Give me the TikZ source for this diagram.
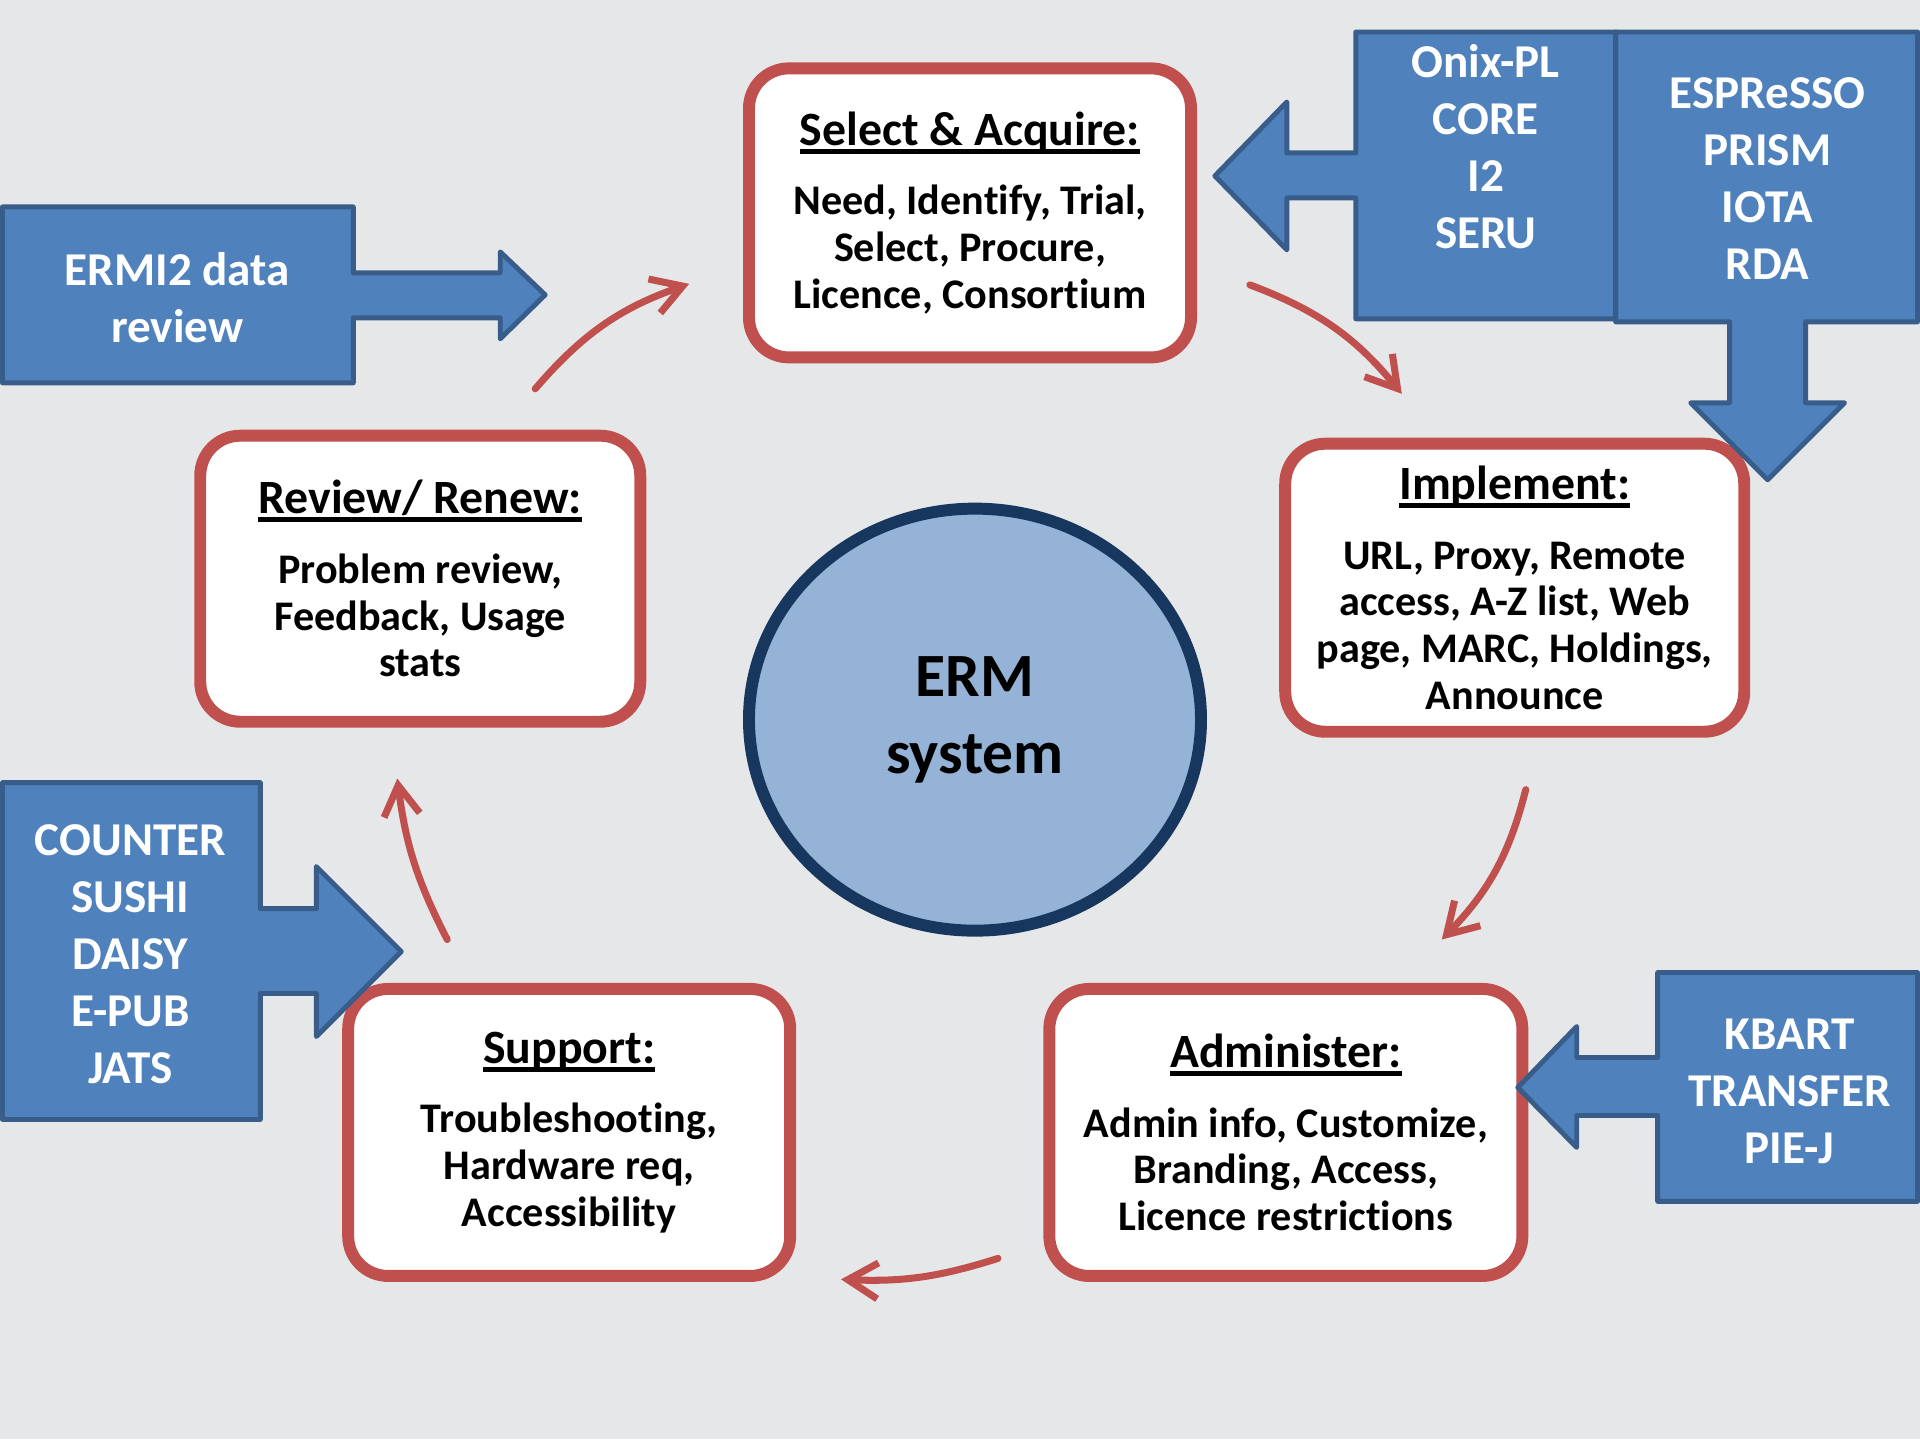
\documentclass[tikz,border=0pt]{standalone}
\usepackage{fontspec}
\setmainfont{Carlito}[Ligatures=NoCommon]
\usetikzlibrary{arrows.meta,shapes.geometric}

\definecolor{slidegray}{RGB}{230,231,233}
\definecolor{calloutblue}{RGB}{79,129,189}
\definecolor{calloutline}{RGB}{56,93,138}
\definecolor{stagered}{RGB}{192,80,77}
\definecolor{ermfill}{RGB}{149,179,215}
\definecolor{ermline}{RGB}{23,55,94}

% underlined stage heading
\newcommand{\hdr}[1]{\setbox0\hbox{#1}\rlap{\rule[-2.4pt]{\wd0}{1.4pt}}\box0}
\newcommand{\ttl}[1]{{\fontsize{13.6}{13.3}\selectfont\hdr{#1}}}

\begin{document}
\begin{tikzpicture}[x=0.01cm,y=-0.01cm,
  stage/.style={draw=stagered, line width=3.4pt, fill=white,
    rounded corners=0.4cm, align=center, inner sep=0pt,
    font=\bfseries\fontsize{12}{13.3}\selectfont},
  callout/.style={draw=calloutline, line width=1.4pt,
    fill=calloutblue, line join=round},
  callouttext/.style={text=white, align=center,
    font=\bfseries\fontsize{13.4}{16.2}\selectfont},
  cyclearrow/.style={draw=stagered, line width=2pt, line cap=round,
    -{Straight Barb[length=0.3cm,width=0.36cm]}}]

\fill[slidegray] (0,0) rectangle (1920,1440);

% centre
\node[ellipse, draw=ermline, line width=3.4pt, fill=ermfill,
  minimum width=4.52cm, minimum height=4.22cm, align=center,
  font=\bfseries\fontsize{17.5}{21.8}\selectfont] (erm) at (975,720)
{ERM\\system};

% the five stages
\node[stage, minimum width=4.42cm, minimum height=2.89cm] (select) at (970,213)
{\ttl{Select \& Acquire:}\\[6.5pt]Need, Identify, Trial,\\Select, Procure,\\Licence, Consortium};
\node[stage, minimum width=4.59cm, minimum height=2.88cm] (implement) at (1515,588)
{\ttl{Implement:}\\[6.5pt]URL, Proxy, Remote\\access, A-Z list, Web\\page, MARC, Holdings,\\Announce};
\node[stage, minimum width=4.73cm, minimum height=2.87cm] (administer) at (1286,1133)
{\ttl{Administer:}\\[6.5pt]Admin info, Customize,\\Branding, Access,\\Licence restrictions};
\node[stage, minimum width=4.42cm, minimum height=2.87cm] (support) at (569,1133)
{\ttl{Support:}\\[6.5pt]Troubleshooting,\\Hardware req,\\Accessibility};
\node[stage, minimum width=4.40cm, minimum height=2.86cm] (review) at (420,579)
{\ttl{Review/ Renew:}\\[6.5pt]Problem review,\\Feedback, Usage\\stats};

% cycle arrows
\coordinate (c1s) at (535,389);  \coordinate (c1e) at (689,284);
\coordinate (c2s) at (1250,285); \coordinate (c2e) at (1402,394);
\coordinate (c3s) at (1526,790); \coordinate (c3e) at (1442,940);
\coordinate (c4s) at (998,1259); \coordinate (c4e) at (841,1280);
\coordinate (c5s) at (447,940);  \coordinate (c5e) at (397,779);
\draw[cyclearrow] (c1s) to[bend left=15] (c1e);
\draw[cyclearrow] (c2s) to[bend left=15] (c2e);
\draw[cyclearrow] (c3s) to[bend left=15] (c3e);
\draw[cyclearrow] (c4s) to[bend left=10] (c4e);
\draw[cyclearrow] (c5s) to[bend left=10] (c5e);

% standards callouts
\draw[callout] (2,207) -- (353,207) -- (353,273) -- (500,273) -- (500,252)
  -- (545,295) -- (500,339) -- (500,318) -- (353,318) -- (353,383) -- (2,383) -- cycle;
\node[callouttext] (ermi) at (177,298) {ERMI2 data\\review};

\draw[callout] (1616,32) -- (1918,32) -- (1918,322) -- (1806,322) -- (1806,403)
  -- (1845,403) -- (1768,480) -- (1691,403) -- (1730,403) -- (1730,322) -- (1616,322) -- cycle;
\node[callouttext] (espresso) at (1768,179) {ESPReSSO\\PRISM\\IOTA\\RDA};

\draw[callout] (1616,32) -- (1356,32) -- (1356,153) -- (1287,153) -- (1287,102)
  -- (1215,176) -- (1287,250) -- (1287,198) -- (1356,198) -- (1356,319) -- (1616,319) -- cycle;
\node[callouttext] (onix) at (1486,147) {Onix-PL\\CORE\\I2\\SERU};

\draw[callout] (2,783) -- (260,783) -- (260,909) -- (316,909) -- (316,867)
  -- (401,952) -- (316,1037) -- (316,994) -- (260,994) -- (260,1120) -- (2,1120) -- cycle;
\node[callouttext] (counter) at (130,955) {COUNTER\\SUSHI\\DAISY\\E-PUB\\JATS};

\draw[callout] (1918,973) -- (1658,973) -- (1658,1058) -- (1577,1058) -- (1577,1027)
  -- (1518,1088) -- (1577,1148) -- (1577,1116) -- (1658,1116) -- (1658,1202) -- (1918,1202) -- cycle;
\node[callouttext] (kbart) at (1790,1092) {KBART\\TRANSFER\\PIE-J};

\end{tikzpicture}
\end{document}
